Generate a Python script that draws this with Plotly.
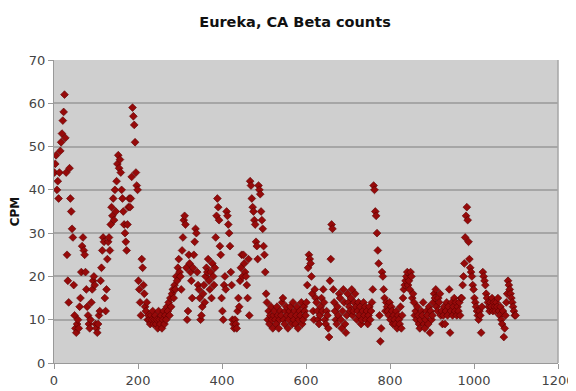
import plotly.graph_objects as go

# Day index (every 2nd day) and beta counts per minute
days = list(range(1, 1100, 2))

cpm = [
    44, 46, 48, 40, 42, 38, 44, 49, 51, 53, 56, 58, 62, 52, 44,
    25, 19, 14, 45, 38, 35, 31, 29, 18, 11, 8, 7, 9, 10, 8,
    13, 15, 21, 27, 29, 26, 25, 21, 17, 13, 11, 9, 8, 10, 14,
    17, 19, 20, 18, 9, 8, 7, 9, 11, 12, 19, 22, 26, 29, 28,
    15, 12, 17, 24, 28, 29, 26, 32, 36, 34, 38, 33, 40, 35, 42,
    46, 48, 45, 47, 44, 40, 38, 35, 32, 30, 28, 26, 32, 36, 38,
    36, 38, 43, 59, 57, 55, 51, 44, 41, 40, 19, 17, 14, 11, 24,
    22, 18, 16, 13, 12, 14, 10, 11, 10, 9, 11, 10, 12, 9, 10,
    11, 9, 10, 8, 12, 10, 9, 11, 8, 10, 12, 9, 11, 10, 13,
    12, 14, 11, 15, 13, 16, 17, 15, 18, 17, 20, 19, 22, 24, 21,
    20, 17, 26, 29, 33, 34, 32, 22, 10, 12, 25, 23, 21, 19, 15,
    22, 25, 28, 31, 30, 21, 18, 17, 15, 10, 11, 13, 16, 18, 14,
    20, 22, 21, 24, 19, 17, 21, 15, 23, 20, 18, 22, 29, 34, 38,
    36, 33, 27, 25, 15, 12, 10, 18, 20, 17, 35, 34, 32, 30, 27,
    21, 18, 10, 9, 8, 10, 9, 8, 12, 15, 13, 19, 22, 25, 20,
    25, 23, 21, 20, 18, 15, 24, 11, 42, 41, 38, 36, 35, 33, 32,
    28, 27, 24, 41, 40, 39, 35, 33, 31, 27, 25, 21, 16, 14, 10,
    12, 9, 11, 13, 10, 8, 11, 12, 10, 9, 13, 11, 8, 10, 12,
    11, 14, 15, 10, 9, 12, 13, 11, 8, 10, 12, 13, 11, 9, 14,
    10, 12, 9, 11, 13, 8, 10, 12, 11, 14, 9, 10, 13, 12, 11,
    14, 18, 22, 25, 24, 23, 20, 16, 12, 10, 17, 15, 14, 12, 10,
    9, 11, 13, 15, 12, 17, 14, 10, 9, 12, 11, 8, 6, 19, 24,
    32, 31, 17, 14, 12, 10, 9, 13, 11, 16, 15, 10, 8, 12, 17,
    14, 9, 7, 11, 16, 14, 13, 12, 15, 17, 11, 12, 14, 16, 13,
    10, 12, 14, 11, 13, 9, 10, 12, 14, 11, 13, 10, 12, 9, 11,
    13, 10, 12, 14, 17, 41, 40, 35, 34, 30, 26, 23, 11, 5, 8,
    21, 20, 17, 15, 12, 14, 13, 12, 11, 14, 10, 13, 12, 9, 11,
    10, 9, 12, 8, 11, 10, 9, 13, 8, 11, 15, 17, 18, 19, 20,
    21, 18, 19, 17, 21, 20, 15, 16, 14, 11, 12, 10, 13, 11, 9,
    8, 10, 12, 11, 14, 9, 8, 10, 12, 11, 9, 13, 7, 12, 10,
    11, 14, 16, 15, 17, 13, 12, 15, 14, 16, 11, 12, 9, 11, 13,
    9, 12, 14, 11, 13, 17, 7, 12, 14, 11, 13, 15, 12, 14, 11,
    13, 12, 14, 11, 15, 15, 18, 20, 23, 29, 34, 36, 33, 28, 24,
    22, 21, 20, 18, 17, 15, 14, 13, 12, 11, 10, 12, 11, 7, 13,
    21, 20, 19, 18, 16, 15, 14, 13, 12, 14, 13, 15, 12, 14, 13,
    12, 14, 13, 15, 12, 11, 13, 10, 9, 12, 6, 8, 11, 14, 16,
    19, 18, 17, 16, 15, 14, 13, 12, 11, 11,
]

x_ticks = [0, 200, 400, 600, 800, 1000, 1200]
y_ticks = [0, 10, 20, 30, 40, 50, 60, 70]

n = min(len(days), len(cpm))

fig = go.Figure()
fig.add_trace(go.Scatter(
    x=days[:n], y=cpm[:n], mode="markers",
    marker=dict(symbol="diamond", size=6, color="#960a0a",
                line=dict(width=0.6, color="#5a0000")),
    showlegend=False,
))

axis_font = dict(family="DejaVu Sans", size=13, color="#444444")

# The page body adds an 8px offset, so the figure is sized to fit the window.
W, H = 568, 383

fig.update_layout(
    width=W, height=H,
    margin=dict(l=46, r=18, t=52, b=28, autoexpand=False),
    paper_bgcolor="white",
    plot_bgcolor="#cfcfcf",
    title=dict(text="<b>Eureka, CA Beta counts</b>", x=287/W, xref="container",
               xanchor="center", y=1 - 14/H, yref="container", yanchor="middle",
               automargin=False,
               font=dict(family="DejaVu Sans", size=14.5, color="#111111")),
    xaxis=dict(range=[0, 1200], tickvals=x_ticks, ticks="outside", ticklen=5,
               tickcolor="#999999", showline=True, linecolor="#999999", linewidth=1,
               showgrid=False, zeroline=False, tickfont=axis_font, automargin=False),
    yaxis=dict(range=[0, 70], tickvals=y_ticks, ticks="outside", ticklen=5,
               tickcolor="#999999", showline=True, linecolor="#999999", linewidth=1,
               showgrid=True, gridcolor="#a6a6a6", gridwidth=1.5, zeroline=False,
               tickfont=axis_font, automargin=False,
               title=dict(text="<b>CPM</b>", standoff=6,
                          font=dict(family="DejaVu Sans", size=12, color="#111111"))),
)

fig.add_shape(type="line", xref="paper", yref="paper", x0=1, x1=1, y0=0, y1=1,
              line=dict(color="#a6a6a6", width=1.5))

fig.write_html("out.html")
